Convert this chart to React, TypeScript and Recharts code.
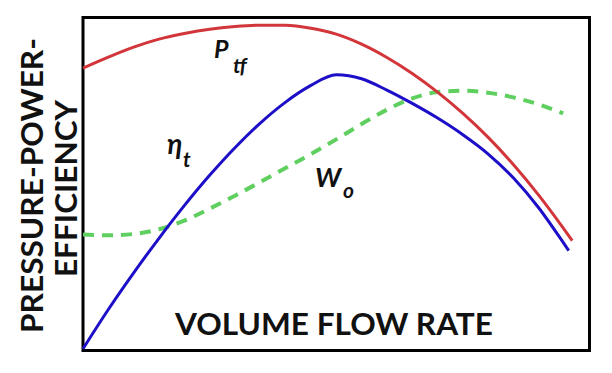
import { LineChart, Line, XAxis, YAxis, ReferenceArea } from "recharts";

// flow rate positions (0..100 across the box) and curve heights (0..100)
const ptfFlow = [0, 5, 10, 15, 20, 25, 30, 35, 40, 45, 50, 55, 60, 65, 70, 75, 80, 85, 90, 95, 96.6];
const ptfValues = [84.8, 88.1, 91.1, 93.5, 95.2, 96.5, 97.3, 97.7, 97.7, 96.8, 95.0, 92.0, 88.0, 83.2, 77.6, 71.2, 64.0, 55.8, 46.6, 36.4, 33.0];

const etaFlow = [0, 5, 10, 15, 20, 25, 30, 35, 40, 45, 50, 55, 60, 65, 70, 75, 80, 85, 90, 95, 95.9];
const etaValues = [0.5, 12.3, 23.3, 33.7, 43.5, 52.6, 60.9, 68.3, 74.6, 79.6, 82.8, 81.6, 78.2, 74.2, 69.8, 64.8, 59.0, 51.8, 42.8, 32.0, 30.0];

const woFlow = [0, 5, 10, 15, 20, 25, 30, 35, 40, 45, 50, 55, 60, 65, 70, 75, 80, 85, 90, 94.8];
const woValues = [34.8, 34.6, 35.0, 36.4, 39.0, 42.6, 46.5, 50.6, 54.8, 59.0, 63.4, 68.0, 72.3, 75.7, 77.6, 78.0, 77.4, 76.0, 73.9, 71.2];

const yTitle = ["PRESSURE-POWER-", "EFFICIENCY"];
const xTitle = "VOLUME FLOW RATE";

const toRows = (xs: number[], ys: number[]) => xs.map((x, i) => ({ flow: x, value: ys[i] }));

const font = "Lato, 'Open Sans', sans-serif";

export default function App() {
  const ptfData = toRows(ptfFlow, ptfValues);
  const etaData = toRows(etaFlow, etaValues);
  const woData = toRows(woFlow, woValues);

  return (
    <div style={{ position: "absolute", left: 0, top: 0, width: 612, height: 373, background: "#fff" }}>
      <LineChart width={612} height={373} margin={{ top: 17.5, right: 22.5, bottom: 22.5, left: 83 }}>
        <XAxis type="number" dataKey="flow" domain={[0, 100]} hide />
        <YAxis type="number" dataKey="value" domain={[0, 100]} hide />
        <ReferenceArea x1={0} x2={100} y1={0} y2={100} fill="none" fillOpacity={0} stroke="#000" strokeWidth={3} />
        <Line data={woData} dataKey="value" type="monotone" stroke="#5fcf5f" strokeWidth={4}
          strokeDasharray="11 8" dot={false} isAnimationActive={false} />
        <Line data={ptfData} dataKey="value" type="monotone" stroke="#d2363a" strokeWidth={3}
          dot={false} isAnimationActive={false} />
        <Line data={etaData} dataKey="value" type="monotone" stroke="#1d0fc8" strokeWidth={3}
          dot={false} isAnimationActive={false} />
      </LineChart>
      <svg width={612} height={373} style={{ position: "absolute", left: 0, top: 0, pointerEvents: "none" }}>
        <g fontFamily={font} fontWeight={700} fill="#111">
          <text x={43} y={185.5} fontSize={31} textAnchor="middle" textLength={295} lengthAdjust="spacingAndGlyphs"
            transform="rotate(-90 43 185.5)">{yTitle[0]}</text>
          <text x={77} y={188.5} fontSize={31} textAnchor="middle" textLength={177} lengthAdjust="spacingAndGlyphs"
            transform="rotate(-90 77 188.5)">{yTitle[1]}</text>
          <text x={334} y={335} fontSize={31} textAnchor="middle" textLength={318} lengthAdjust="spacingAndGlyphs">{xTitle}</text>
        </g>
        <g fontFamily={font} fontStyle="italic" fontWeight={700} fill="#111">
          <text x={214} y={58} fontSize={25}>P</text>
          <text x={233} y={73} fontSize={21}>tf</text>
          <text x={167} y={154} fontSize={28}>η</text>
          <text x={183} y={167} fontSize={21}>t</text>
          <text x={315} y={187} fontSize={27}>W</text>
          <text x={343} y={198} fontSize={21}>o</text>
        </g>
      </svg>
    </div>
  );
}
